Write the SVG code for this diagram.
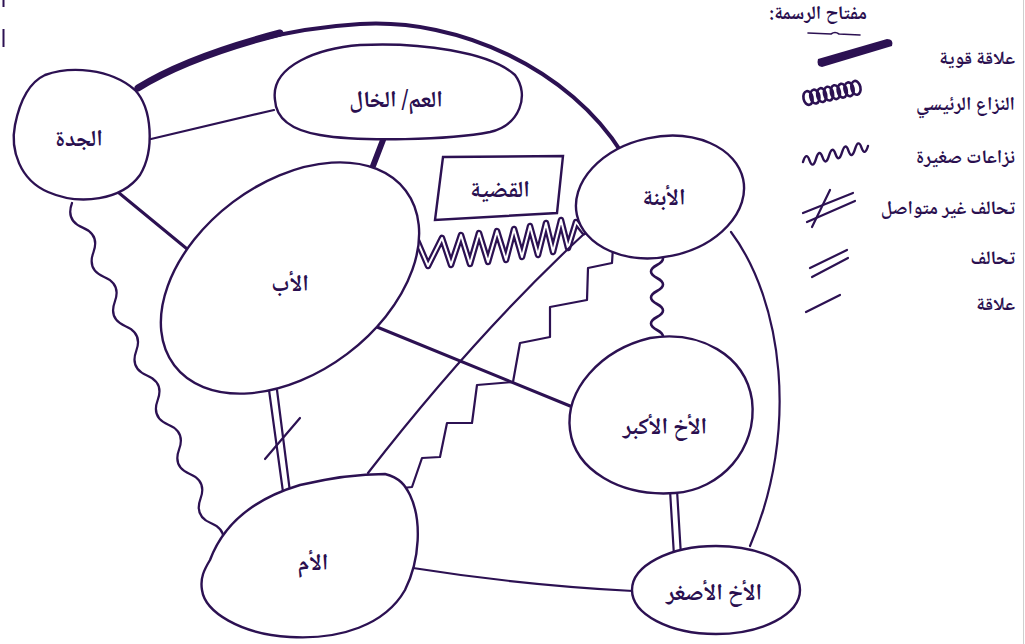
<svg xmlns="http://www.w3.org/2000/svg" width="1025" height="644" viewBox="0 0 1025 644">
  <style>
    .node { fill: #ffffff; stroke: #2c1152; stroke-width: 2.4; }
    .lbl { font-family: 'Noto Naskh Arabic', 'Noto Sans Arabic', 'DejaVu Sans', sans-serif; font-weight: bold; fill: #2a0f4f; }
    .nl { font-size: 23px; text-anchor: middle; }
    .kl { font-size: 19px; text-anchor: start; }
    .ln { fill: none; stroke: #2c1152; stroke-linecap: round; stroke-linejoin: round; }
    .thin { stroke-width: 2.2; }
    .mid { stroke-width: 3; }
    .white { fill: none; stroke: #ffffff; stroke-linecap: round; stroke-linejoin: round; }
  </style>

  <rect x="0" y="0" width="1025" height="644" fill="#ffffff"/>
  <!-- page edge and clipped margin marks -->
  <line x1="1023.5" y1="0" x2="1023.5" y2="644" stroke="#cfcfcf" stroke-width="1"/>
  <line x1="3.5" y1="0" x2="3.5" y2="7" stroke="#2c1152" stroke-width="2"/>
  <line x1="3.5" y1="29" x2="3.5" y2="47" stroke="#2c1152" stroke-width="2"/>

  <!-- connectors -->
  <g id="connectors">
    <!-- strong relation: grandmother to daughter, big arc -->
    <path class="ln" d="M138,88 C180,62 260,30 360,24 C460,18 570,70 622,153" stroke-width="4"/>
    <path class="ln" d="M138,88 C170,68 215,50 280,33" stroke-width="7"/>
    <!-- grandmother to uncle -->
    <path class="ln thin" d="M151,139 L274,110"/>
    <!-- grandmother to father -->
    <path class="ln mid" d="M113,188 L192,253"/>
    <!-- uncle to father, strong -->
    <path class="ln" d="M383,140 L373,166" stroke-width="6"/>
    <!-- grandmother to mother, small conflicts -->
    <path class="ln thin" d="M72,203 q-6.5,17.5 10.71,24.64 t10.71,24.64 t10.71,24.64 t10.71,24.64 t10.71,24.64 t10.71,24.64 t10.71,24.64 t10.71,24.64 t10.71,24.64 t10.71,24.64 t10.71,24.64 t10.71,24.64 t10.71,24.64 t10.71,24.64"/>
    <!-- father to daughter, main conflict (double zigzag) -->
    <path class="ln" stroke-width="6.5" d="M416,238 L428,266 L442,238 L451,265 L461,235 L470,264 L479,233 L488,262 L497,231 L506,260 L514,229 L522,257 L530,226 L538,255 L546,223 L553,252 L561,220 L568,248 L576,222 L584,232"/>
    <path class="white" stroke-width="2" d="M416,238 L428,266 L442,238 L451,265 L461,235 L470,264 L479,233 L488,262 L497,231 L506,260 L514,229 L522,257 L530,226 L538,255 L546,223 L553,252 L561,220 L568,248 L576,222 L584,232"/>
    <!-- father to elder brother -->
    <path class="ln mid" d="M377,327 L575,408"/>
    <!-- daughter to mother -->
    <path class="ln thin" d="M585,233 Q475,335 368,473"/>
    <!-- daughter to mother, stepped small conflicts -->
    <path class="ln thin" d="M613,247 L612,263 L588,268 L587,300 L550,307 L550,337 L520,343 L513,382 L477,385 L472,423 L447,423 L440,457 L422,458 L412,487 L403,488"/>
    <!-- daughter to elder brother, small conflicts -->
    <path class="ln" stroke-width="2.6" d="M657,252 q12,6.5 0,13 t0,13 t0,13 t0,13 t0,13 t0,13 t0,13"/>
    <!-- daughter to younger brother -->
    <path class="ln thin" d="M731,232 C782,300 800,430 750,546"/>
    <!-- father to mother, broken alliance -->
    <path class="ln thin" d="M269,390 L283,492"/>
    <path class="ln thin" d="M277,390 L290,492"/>
    <path class="ln thin" d="M265,459 L300,418"/>
    <!-- elder brother to younger brother, alliance -->
    <path class="ln thin" d="M670,490 L674,556"/>
    <path class="ln thin" d="M677,490 L681,556"/>
    <!-- mother to younger brother -->
    <path class="ln thin" d="M413,568 Q520,585 633,591"/>
  </g>

  <!-- nodes -->
  <g id="grandmother">
    <path class="node" d="M45,75 C70,66 110,68 135,90 C152,108 155,150 140,175 C122,200 80,206 48,192 C20,180 10,150 15,125 C20,100 30,82 45,75 Z"/>
    <text class="lbl nl" x="79" y="146">الجدة</text>
  </g>
  <g id="uncle">
    <path class="node" d="M275,100 C270,65 320,48 360,45 C420,42 490,52 515,75 C530,95 520,125 490,132 C450,140 360,142 320,135 C290,130 276,118 275,100 Z"/>
    <text class="lbl nl" x="396" y="107">العم/ الخال</text>
  </g>
  <g id="issue">
    <path class="node" d="M443,157 L563,156 L557,213 L435,220 Z"/>
    <text class="lbl nl" x="500" y="197">القضية</text>
  </g>
  <g id="father">
    <ellipse class="node" cx="290" cy="278" rx="145" ry="95" transform="rotate(-37 290 278)"/>
    <text class="lbl nl" x="290" y="291">الأب</text>
  </g>
  <g id="daughter">
    <ellipse class="node" cx="660" cy="197" rx="85" ry="60" transform="rotate(-12 660 197)"/>
    <text class="lbl nl" x="664" y="205">الأبنة</text>
  </g>
  <g id="elder-brother">
    <path class="node" d="M570,430 C565,390 600,350 650,338 C700,330 745,355 752,400 C758,450 720,490 675,493 C620,497 575,470 570,430 Z"/>
    <text class="lbl nl" x="665" y="434">الأخ الأكبر</text>
  </g>
  <g id="mother">
    <path class="node" d="M210,560 C225,520 260,497 300,485 C330,478 360,474 385,474 C400,478 405,485 410,495 C422,520 420,560 405,590 C385,625 340,640 290,637 C240,634 205,612 202,590 C200,578 204,570 210,560 Z"/>
    <text class="lbl nl" x="313" y="570">الأم</text>
  </g>
  <g id="younger-brother">
    <ellipse class="node" cx="716" cy="590" rx="84" ry="44"/>
    <text class="lbl nl" x="714" y="600">الأخ الأصغر</text>
  </g>

  <!-- key -->
  <g id="key">
    <text class="lbl kl" x="867" y="19" direction="rtl">مفتاح الرسمة:</text>
    <path class="ln" stroke-width="1.6" d="M808,33 L831,34 Q835,31 839,34 L860,35"/>

    <path fill="#2c1152" d="M818,59 L887,39 Q894,39 892,46 L822,67 Q816,66 818,59 Z"/>
    <text class="lbl kl" x="1015" y="64" direction="rtl">علاقة قوية</text>

    <g transform="translate(808,98) rotate(-12)" fill="none" stroke="#2c1152" stroke-width="2.6">
      <ellipse cx="0" cy="0" rx="4.5" ry="7"/>
      <ellipse cx="7" cy="0" rx="4.5" ry="7"/>
      <ellipse cx="14" cy="0" rx="4.5" ry="7"/>
      <ellipse cx="21" cy="0" rx="4.5" ry="7"/>
      <ellipse cx="28" cy="0" rx="4.5" ry="7"/>
      <ellipse cx="35" cy="0" rx="4.5" ry="7"/>
      <ellipse cx="42" cy="0" rx="4.5" ry="7"/>
      <ellipse cx="49" cy="0" rx="4.5" ry="7"/>
    </g>
    <text class="lbl kl" x="1015" y="110" direction="rtl">النزاع الرئيسي</text>

    <path class="ln" stroke-width="2.4" d="M803,162 q3.25,-10.8 6.5,-1.6 t6.5,-1.6 t6.5,-1.6 t6.5,-1.6 t6.5,-1.6 t6.5,-1.6 t6.5,-1.6 t6.5,-1.6 t6.5,-1.6 t6.5,-1.6"/>
    <text class="lbl kl" x="1015" y="163" direction="rtl">نزاعات صغيرة</text>

    <path class="ln" stroke-width="2.2" d="M803,213 L853,193"/>
    <path class="ln" stroke-width="2.2" d="M807,222 L855,201"/>
    <path class="ln" stroke-width="2.2" d="M812,227 L830,190"/>
    <text class="lbl kl" x="1015" y="214" direction="rtl">تحالف غير متواصل</text>

    <path class="ln" stroke-width="2.2" d="M810,268 L847,250"/>
    <path class="ln" stroke-width="2.2" d="M812,277 L848,258"/>
    <text class="lbl kl" x="1015" y="264" direction="rtl">تحالف</text>

    <path class="ln" stroke-width="2.2" d="M806,312 L840,295"/>
    <text class="lbl kl" x="1015" y="310" direction="rtl">علاقة</text>
  </g>
</svg>
